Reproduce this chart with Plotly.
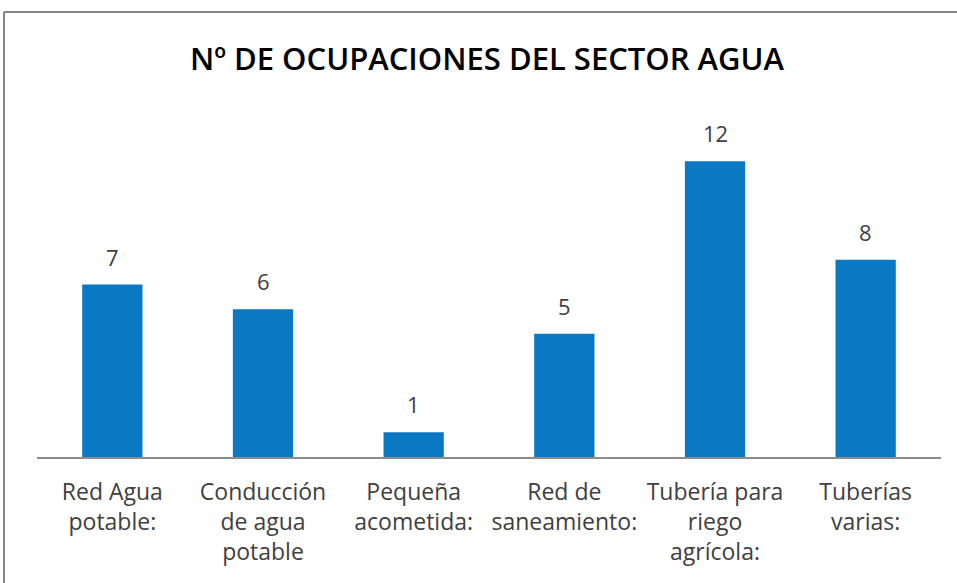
import plotly.graph_objects as go

categories = ["Red Agua<br>potable:", "Conducción<br>de agua<br>potable", "Pequeña<br>acometida:",
              "Red de<br>saneamiento:", "Tubería para<br>riego<br>agrícola:", "Tuberías<br>varias:"]
values = [7, 6, 1, 5, 12, 8]
title_text = "Nº DE OCUPACIONES DEL SECTOR AGUA"

W, H = 957, 583
ml, mr, mt, mb = 37, 16, 112, 126
pw, ph = W - ml - mr, H - mt - mb
FONT = "Open Sans, sans-serif"

fig = go.Figure(go.Bar(
    x=categories, y=values,
    marker=dict(color="#0a78c2", line=dict(width=0)),
    cliponaxis=False,
))

annotations = [
    dict(x=c, y=v, xref="x", yref="y", text=str(v), showarrow=False,
         yanchor="bottom", yshift=11,
         font=dict(family=FONT, size=22, color="#404040"))
    for c, v in zip(categories, values)
]

bx = (4 - ml) / pw
by = (H - mb - 12) / ph

fig.update_layout(
    width=W, height=H,
    margin=dict(l=ml, r=mr, t=mt, b=mb),
    paper_bgcolor="white", plot_bgcolor="white",
    bargap=0.6,
    showlegend=False,
    annotations=annotations,
    title=dict(text=title_text, x=487 / W, xanchor="center",
               y=1 - 59 / H, yanchor="middle", yref="container",
               font=dict(family=FONT, size=31, color="#000000", weight=600)),
    xaxis=dict(showline=True, linecolor="#8c8c8c", linewidth=1.5, ticks="",
               tickfont=dict(family=FONT, size=23, color="#404040"),
               ticklabelstandoff=14, showgrid=False),
    yaxis=dict(range=[0, 14], visible=False, showgrid=False, zeroline=False),
    shapes=[
        dict(type="line", xref="paper", yref="paper", x0=bx, x1=bx, y0=by, y1=-0.5,
             line=dict(color="#868686", width=2)),
        dict(type="line", xref="paper", yref="paper", x0=bx, x1=1.1, y0=by, y1=by,
             line=dict(color="#868686", width=2)),
    ],
)

fig.write_html("out.html", config={"displayModeBar": False},
               post_script="document.body.style.margin='0';")
